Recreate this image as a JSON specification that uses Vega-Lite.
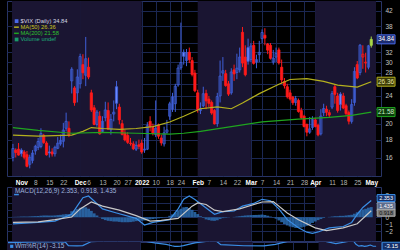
{
"$schema":"https://vega.github.io/schema/vega-lite/v6.json",
"background":"#000000",
"padding":{"left":6,"top":0,"right":0,"bottom":0},
"bounds":"flush",
"spacing":11,
"resolve":{"scale":{"color":"independent","stroke":"independent","fill":"independent"},"legend":{"color":"independent"}},
"config":{"font":"Liberation Sans","view":{"stroke":"#283466"},"axis":{"labelColor":"#c4c4c4","labelFont":"Liberation Sans","labelFontSize":6.5,"gridColor":"#1b2752","gridWidth":1,"domain":false,"ticks":false,"title":null,"labelOverlap":false,"labelBound":false,"labelFlush":false,"tickCount":200}},
"datasets":{
"one":[{}],
"months":[{"s":-3.34,"e":21},{"s":21,"e":43},{"s":63,"e":82},{"s":105,"e":126.7}],
"candles":[
{"i":-3,"o":16.0,"h":17.5,"l":15.6,"c":16.98,"d":"u"},{"i":-2,"o":16.8,"h":17.0,"l":16.0,"c":16.53,"d":"d"},{"i":-1,"o":16.9,"h":17.6,"l":16.2,"c":16.26,"d":"d"},
{"i":0,"o":16.8,"h":17.0,"l":16.1,"c":16.41,"d":"u"},{"i":1,"o":16.6,"h":16.8,"l":15.8,"c":16.03,"d":"d"},{"i":2,"o":16.3,"h":16.7,"l":15.0,"c":15.10,"d":"d"},{"i":3,"o":15.3,"h":16.3,"l":14.9,"c":16.03,"d":"u"},{"i":4,"o":15.7,"h":16.8,"l":15.4,"c":16.48,"d":"u"},
{"i":5,"o":16.7,"h":17.4,"l":16.3,"c":17.22,"d":"u"},{"i":6,"o":17.1,"h":18.2,"l":16.8,"c":17.78,"d":"u"},{"i":7,"o":17.2,"h":19.4,"l":17.0,"c":18.73,"d":"u"},{"i":8,"o":18.5,"h":18.7,"l":17.5,"c":17.66,"d":"d"},{"i":9,"o":17.6,"h":17.8,"l":16.2,"c":16.29,"d":"d"},
{"i":10,"o":16.6,"h":17.3,"l":16.0,"c":16.49,"d":"u"},{"i":11,"o":16.6,"h":17.0,"l":16.1,"c":16.37,"d":"d"},{"i":12,"o":16.4,"h":17.3,"l":16.1,"c":17.11,"d":"u"},{"i":13,"o":17.0,"h":18.3,"l":16.9,"c":17.59,"d":"u"},{"i":14,"o":17.5,"h":18.6,"l":17.3,"c":17.91,"d":"u"},
{"i":15,"o":17.8,"h":20.1,"l":17.1,"c":19.17,"d":"u"},{"i":16,"o":19.4,"h":21.5,"l":19.0,"c":20.3,"d":"u"},{"i":17,"o":19.4,"h":20.3,"l":18.3,"c":18.58,"d":"d"},{"i":18,"o":26.5,"h":29.0,"l":24.4,"c":28.62,"d":"u"},{"i":19,"o":25.3,"h":25.6,"l":22.5,"c":22.96,"d":"d"},
{"i":20,"o":24.5,"h":28.6,"l":23.0,"c":27.19,"d":"u"},{"i":21,"o":26.0,"h":31.7,"l":25.2,"c":31.12,"d":"u"},{"i":22,"o":29.5,"h":31.6,"l":26.8,"c":27.95,"d":"d"},{"i":23,"o":27.5,"h":35.4,"l":25.6,"c":30.67,"d":"u"},{"i":24,"o":29.0,"h":30.9,"l":26.8,"c":27.18,"d":"d"},
{"i":25,"o":24.5,"h":25.0,"l":21.6,"c":21.89,"d":"d"},{"i":26,"o":22.2,"h":22.6,"l":19.8,"c":19.90,"d":"d"},{"i":27,"o":19.9,"h":21.9,"l":19.6,"c":21.58,"d":"u"},{"i":28,"o":21.0,"h":21.7,"l":18.6,"c":18.69,"d":"d"},{"i":29,"o":19.0,"h":21.0,"l":18.8,"c":20.31,"d":"u"},
{"i":30,"o":20.8,"h":23.1,"l":20.3,"c":21.89,"d":"u"},{"i":31,"o":21.8,"h":23.0,"l":19.2,"c":19.29,"d":"d"},{"i":32,"o":19.2,"h":21.3,"l":18.6,"c":20.57,"d":"u"},{"i":33,"o":21.3,"h":23.3,"l":20.3,"c":21.57,"d":"u"},{"i":34,"o":25.5,"h":26.5,"l":22.0,"c":22.87,"d":"u"},
{"i":35,"o":22.3,"h":22.8,"l":19.9,"c":20.5,"d":"d"},{"i":36,"o":20.0,"h":20.5,"l":18.5,"c":18.63,"d":"d"},{"i":37,"o":18.8,"h":19.2,"l":17.8,"c":17.96,"d":"d"},{"i":38,"o":18.5,"h":18.9,"l":17.5,"c":17.68,"d":"d"},{"i":39,"o":17.6,"h":18.2,"l":17.3,"c":17.54,"d":"d"},
{"i":40,"o":17.5,"h":17.8,"l":16.8,"c":16.95,"d":"d"},{"i":41,"o":16.9,"h":17.8,"l":16.7,"c":17.33,"d":"u"},{"i":42,"o":17.4,"h":18.0,"l":16.9,"c":17.22,"d":"d"},{"i":43,"o":17.6,"h":18.0,"l":16.4,"c":16.60,"d":"d"},{"i":44,"o":16.8,"h":18.2,"l":16.5,"c":16.91,"d":"u"},
{"i":45,"o":16.9,"h":20.2,"l":16.8,"c":19.73,"d":"u"},{"i":46,"o":20.3,"h":21.0,"l":19.0,"c":19.61,"d":"d"},{"i":47,"o":19.5,"h":20.0,"l":18.5,"c":18.76,"d":"d"},{"i":48,"o":18.6,"h":23.3,"l":18.3,"c":19.40,"d":"u"},{"i":49,"o":19.8,"h":20.0,"l":18.1,"c":18.41,"d":"d"},
{"i":50,"o":18.2,"h":18.6,"l":17.3,"c":17.62,"d":"d"},{"i":51,"o":17.5,"h":19.6,"l":17.2,"c":18.83,"d":"u"},{"i":52,"o":18.9,"h":20.5,"l":18.7,"c":19.19,"d":"u"},{"i":53,"o":21.0,"h":23.1,"l":20.5,"c":22.79,"d":"u"},{"i":54,"o":22.0,"h":24.5,"l":21.6,"c":23.85,"d":"u"},
{"i":55,"o":22.8,"h":26.0,"l":21.6,"c":25.59,"d":"u"},{"i":56,"o":25.8,"h":29.5,"l":25.5,"c":28.85,"d":"u"},{"i":57,"o":28.9,"h":38.9,"l":28.5,"c":29.90,"d":"u"},{"i":58,"o":32.0,"h":32.6,"l":29.5,"c":31.16,"d":"u"},{"i":59,"o":30.3,"h":32.7,"l":29.2,"c":31.96,"d":"u"},
{"i":60,"o":32.0,"h":33.0,"l":29.8,"c":30.49,"d":"d"},{"i":61,"o":30.3,"h":31.0,"l":27.3,"c":27.66,"d":"d"},{"i":62,"o":27.9,"h":28.5,"l":24.6,"c":24.83,"d":"d"},{"i":63,"o":24.5,"h":25.0,"l":21.5,"c":21.96,"d":"d"},{"i":64,"o":21.8,"h":23.0,"l":21.3,"c":22.09,"d":"u"},
{"i":65,"o":22.5,"h":25.5,"l":22.3,"c":24.35,"d":"u"},{"i":66,"o":24.4,"h":25.0,"l":22.0,"c":23.22,"d":"d"},{"i":67,"o":23.5,"h":24.0,"l":22.3,"c":22.86,"d":"d"},{"i":68,"o":23.0,"h":23.3,"l":21.2,"c":21.44,"d":"d"},{"i":69,"o":21.8,"h":22.0,"l":19.9,"c":19.96,"d":"d"},
{"i":70,"o":20.0,"h":24.5,"l":19.6,"c":23.91,"d":"u"},{"i":71,"o":24.0,"h":30.3,"l":23.0,"c":27.36,"d":"u"},{"i":72,"o":27.9,"h":31.0,"l":26.5,"c":28.33,"d":"u"},{"i":73,"o":27.8,"h":28.5,"l":25.5,"c":25.70,"d":"d"},{"i":74,"o":26.0,"h":26.5,"l":24.0,"c":24.29,"d":"d"},
{"i":75,"o":24.5,"h":28.8,"l":24.2,"c":28.11,"d":"u"},{"i":76,"o":28.5,"h":29.5,"l":26.5,"c":27.75,"d":"d"},{"i":77,"o":28.0,"h":31.7,"l":26.8,"c":28.81,"d":"u"},{"i":78,"o":28.5,"h":33.0,"l":28.0,"c":31.02,"d":"u"},{"i":79,"o":36.5,"h":37.8,"l":29.0,"c":29.8,"d":"d"},
{"i":80,"o":31.0,"h":33.5,"l":27.3,"c":27.59,"d":"d"},{"i":81,"o":33.0,"h":35.0,"l":29.5,"c":30.15,"d":"u"},{"i":82,"o":30.5,"h":34.0,"l":30.0,"c":33.32,"d":"u"},{"i":83,"o":33.5,"h":34.5,"l":29.5,"c":29.74,"d":"d"},{"i":84,"o":30.0,"h":31.5,"l":28.8,"c":30.48,"d":"u"},
{"i":85,"o":31.5,"h":34.5,"l":30.0,"c":31.98,"d":"u"},{"i":86,"o":35.0,"h":37.2,"l":34.0,"c":36.45,"d":"u"},{"i":87,"o":35.8,"h":37.5,"l":33.5,"c":35.13,"d":"d"},{"i":88,"o":33.8,"h":34.0,"l":31.6,"c":32.45,"d":"d"},{"i":89,"o":33.5,"h":34.0,"l":30.5,"c":30.75,"d":"d"},
{"i":90,"o":30.0,"h":32.5,"l":29.5,"c":30.8,"d":"u"},{"i":91,"o":31.0,"h":33.0,"l":30.0,"c":31.77,"d":"u"},{"i":92,"o":32.5,"h":33.0,"l":29.5,"c":29.83,"d":"d"},{"i":93,"o":29.0,"h":30.5,"l":26.0,"c":26.67,"d":"d"},{"i":94,"o":26.4,"h":27.0,"l":25.2,"c":25.67,"d":"d"},
{"i":95,"o":25.5,"h":26.0,"l":23.6,"c":23.87,"d":"d"},{"i":96,"o":24.5,"h":25.0,"l":23.3,"c":23.53,"d":"d"},{"i":97,"o":23.8,"h":24.0,"l":22.6,"c":22.94,"d":"d"},{"i":98,"o":23.0,"h":24.0,"l":22.5,"c":23.57,"d":"u"},{"i":99,"o":23.3,"h":23.6,"l":21.5,"c":21.67,"d":"d"},
{"i":100,"o":21.8,"h":22.2,"l":20.6,"c":20.81,"d":"d"},{"i":101,"o":21.0,"h":21.2,"l":19.5,"c":19.63,"d":"d"},{"i":102,"o":19.9,"h":20.0,"l":18.4,"c":18.90,"d":"d"},{"i":103,"o":18.9,"h":20.9,"l":18.7,"c":19.33,"d":"u"},{"i":104,"o":19.5,"h":21.0,"l":19.2,"c":20.56,"d":"u"},
{"i":105,"o":20.5,"h":20.8,"l":19.5,"c":19.63,"d":"d"},{"i":106,"o":19.8,"h":20.0,"l":18.4,"c":18.57,"d":"d"},{"i":107,"o":18.7,"h":22.0,"l":18.5,"c":21.03,"d":"u"},{"i":108,"o":21.5,"h":22.8,"l":21.0,"c":22.10,"d":"u"},{"i":109,"o":22.0,"h":22.5,"l":21.0,"c":21.55,"d":"d"},
{"i":110,"o":21.5,"h":21.9,"l":20.8,"c":21.16,"d":"d"},{"i":111,"o":22.3,"h":24.8,"l":22.0,"c":24.37,"d":"u"},{"i":112,"o":25.5,"h":25.8,"l":22.8,"c":24.26,"d":"d"},{"i":113,"o":24.0,"h":24.5,"l":21.5,"c":21.82,"d":"d"},{"i":114,"o":24.3,"h":24.6,"l":21.8,"c":22.70,"d":"u"},
{"i":115,"o":24.0,"h":24.5,"l":22.0,"c":22.17,"d":"d"},{"i":116,"o":22.5,"h":22.8,"l":21.1,"c":21.37,"d":"d"},{"i":117,"o":21.5,"h":21.8,"l":19.9,"c":20.32,"d":"d"},{"i":118,"o":20.3,"h":23.5,"l":20.0,"c":22.68,"d":"u"},{"i":119,"o":23.0,"h":29.0,"l":22.5,"c":28.21,"d":"u"},
{"i":120,"o":29.5,"h":30.2,"l":26.8,"c":27.02,"d":"d"},{"i":121,"o":28.0,"h":33.8,"l":27.5,"c":33.52,"d":"u"},{"i":122,"o":31.0,"h":33.5,"l":28.7,"c":31.60,"d":"d"},{"i":123,"o":29.8,"h":31.9,"l":28.0,"c":29.99,"d":"d"},{"i":124,"o":29.0,"h":33.6,"l":28.6,"c":33.40,"d":"u"},
{"i":125,"o":33.5,"h":35.5,"l":33.0,"c":34.84,"d":"L"}],
"ma":[
{"i":-3,"v":18.54,"k":"a"},{"i":6,"v":18.42,"k":"a"},{"i":18,"v":18.54,"k":"a"},{"i":22,"v":19.0,"k":"a"},{"i":25,"v":19.49,"k":"a"},{"i":29,"v":19.37,"k":"a"},{"i":35,"v":19.25,"k":"a"},{"i":41,"v":19.37,"k":"a"},{"i":47,"v":19.61,"k":"a"},{"i":53,"v":20.22,"k":"a"},{"i":58,"v":21.0,"k":"a"},{"i":64,"v":22.06,"k":"a"},{"i":70,"v":22.34,"k":"a"},{"i":75,"v":22.06,"k":"a"},{"i":79,"v":22.9,"k":"a"},{"i":85,"v":24.37,"k":"a"},{"i":92,"v":25.93,"k":"a"},{"i":96,"v":26.75,"k":"a"},{"i":102,"v":26.91,"k":"a"},{"i":108,"v":26.41,"k":"a"},{"i":113,"v":25.77,"k":"a"},{"i":120,"v":25.45,"k":"a"},{"i":125,"v":26.36,"k":"a"},
{"i":-3,"v":19.49,"k":"b"},{"i":6,"v":19.13,"k":"b"},{"i":18,"v":18.77,"k":"b"},{"i":29,"v":18.89,"k":"b"},{"i":41,"v":18.77,"k":"b"},{"i":53,"v":18.66,"k":"b"},{"i":58,"v":18.77,"k":"b"},{"i":64,"v":19.0,"k":"b"},{"i":75,"v":19.61,"k":"b"},{"i":86,"v":20.22,"k":"b"},{"i":99,"v":20.6,"k":"b"},{"i":110,"v":20.85,"k":"b"},{"i":118,"v":21.11,"k":"b"},{"i":125,"v":21.58,"k":"b"}],
"hist":[
{"i":-3,"h":0.05},{"i":-2,"h":0.06},{"i":-1,"h":0.08},{"i":0,"h":0.1},{"i":1,"h":0.1},{"i":2,"h":0.1},{"i":3,"h":0.12},{"i":4,"h":0.14},{"i":5,"h":0.16},{"i":6,"h":0.18},{"i":7,"h":0.22},{"i":8,"h":0.25},{"i":9,"h":0.25},{"i":10,"h":0.24},{"i":11,"h":0.24},{"i":12,"h":0.26},{"i":13,"h":0.3},{"i":14,"h":0.34},{"i":15,"h":0.4},{"i":16,"h":0.45},{"i":17,"h":0.45},
{"i":18,"h":0.85},{"i":19,"h":0.95},{"i":20,"h":1.15},{"i":21,"h":1.35},{"i":22,"h":1.45},{"i":23,"h":1.4},{"i":24,"h":1.2},{"i":25,"h":0.9},{"i":26,"h":0.55},
{"i":27,"h":0.25},{"i":28,"h":-0.05},{"i":29,"h":-0.25},{"i":30,"h":-0.4},{"i":31,"h":-0.5},{"i":32,"h":-0.55},{"i":33,"h":-0.6},{"i":34,"h":-0.6},{"i":35,"h":-0.65},{"i":36,"h":-0.7},{"i":37,"h":-0.7},{"i":38,"h":-0.7},{"i":39,"h":-0.68},{"i":40,"h":-0.62},
{"i":41,"h":-0.55},{"i":42,"h":-0.5},{"i":43,"h":-0.48},{"i":44,"h":-0.45},{"i":45,"h":-0.38},{"i":46,"h":-0.3},{"i":47,"h":-0.25},{"i":48,"h":-0.2},{"i":49,"h":-0.15},{"i":50,"h":-0.1},{"i":51,"h":-0.05},{"i":52,"h":0.05},
{"i":53,"h":0.2},{"i":54,"h":0.4},{"i":55,"h":0.65},{"i":56,"h":0.95},{"i":57,"h":1.2},{"i":58,"h":1.4},{"i":59,"h":1.45},{"i":60,"h":1.3},{"i":61,"h":1.05},{"i":62,"h":0.75},{"i":63,"h":0.45},
{"i":64,"h":0.15},{"i":65,"h":-0.1},{"i":66,"h":-0.3},{"i":67,"h":-0.4},{"i":68,"h":-0.48},{"i":69,"h":-0.5},{"i":70,"h":-0.42},{"i":71,"h":-0.25},{"i":72,"h":-0.12},{"i":73,"h":-0.08},{"i":74,"h":-0.04},{"i":75,"h":0.0},
{"i":76,"h":0.05},{"i":77,"h":0.1},{"i":78,"h":0.15},{"i":79,"h":0.2},{"i":80,"h":0.25},{"i":81,"h":0.28},{"i":82,"h":0.3},{"i":83,"h":0.32},{"i":84,"h":0.33},{"i":85,"h":0.35},{"i":86,"h":0.38},{"i":87,"h":0.32},{"i":88,"h":0.22},{"i":89,"h":0.1},{"i":90,"h":-0.05},
{"i":91,"h":-0.2},{"i":92,"h":-0.45},{"i":93,"h":-0.7},{"i":94,"h":-0.95},{"i":95,"h":-1.15},{"i":96,"h":-1.3},{"i":97,"h":-1.4},{"i":98,"h":-1.5},{"i":99,"h":-1.5},{"i":100,"h":-1.45},{"i":101,"h":-1.35},{"i":102,"h":-1.2},{"i":103,"h":-1.0},{"i":104,"h":-0.8},
{"i":105,"h":-0.6},{"i":106,"h":-0.4},{"i":107,"h":-0.25},{"i":108,"h":-0.1},{"i":109,"h":0.0},{"i":110,"h":0.05},{"i":111,"h":0.1},{"i":112,"h":0.15},{"i":113,"h":0.15},{"i":114,"h":0.2},{"i":115,"h":0.2},
{"i":116,"h":0.25},{"i":117,"h":0.3},{"i":118,"h":0.35},{"i":119,"h":0.5},{"i":120,"h":0.7},{"i":121,"h":0.9},{"i":122,"h":1.1},{"i":123,"h":1.2},{"i":124,"h":1.35},{"i":125,"h":1.435}],
"ml":[
{"i":-3,"v":-0.92,"k":"m"},{"i":6,"v":-0.73,"k":"m"},{"i":12,"v":-0.54,"k":"m"},{"i":18,"v":0.42,"k":"m"},{"i":20,"v":1.6,"k":"m"},{"i":22,"v":2.75,"k":"m"},{"i":24,"v":3.0,"k":"m"},{"i":26,"v":2.3,"k":"m"},{"i":29,"v":1.18,"k":"m"},{"i":34,"v":0.6,"k":"m"},{"i":41,"v":-0.15,"k":"m"},{"i":44,"v":-1.1,"k":"m"},{"i":47,"v":-0.73,"k":"m"},{"i":53,"v":-0.34,"k":"m"},{"i":56,"v":1.18,"k":"m"},{"i":58,"v":2.53,"k":"m"},{"i":60,"v":3.0,"k":"m"},{"i":62,"v":2.5,"k":"m"},{"i":64,"v":1.9,"k":"m"},{"i":69,"v":0.42,"k":"m"},{"i":72,"v":0.8,"k":"m"},{"i":76,"v":0.88,"k":"m"},{"i":79,"v":1.57,"k":"m"},{"i":83,"v":1.95,"k":"m"},{"i":86,"v":2.53,"k":"m"},{"i":89,"v":2.33,"k":"m"},{"i":92,"v":1.18,"k":"m"},{"i":95,"v":-0.34,"k":"m"},{"i":99,"v":-1.49,"k":"m"},{"i":102,"v":-2.1,"k":"m"},{"i":104,"v":-2.26,"k":"m"},{"i":106,"v":-2.07,"k":"m"},{"i":110,"v":-1.49,"k":"m"},{"i":115,"v":-1.3,"k":"m"},{"i":118,"v":-0.73,"k":"m"},{"i":120,"v":0.42,"k":"m"},{"i":122,"v":1.38,"k":"m"},{"i":125,"v":2.353,"k":"m"},
{"i":-3,"v":-0.73,"k":"s"},{"i":6,"v":-0.65,"k":"s"},{"i":12,"v":-0.34,"k":"s"},{"i":18,"v":0.04,"k":"s"},{"i":21,"v":1.18,"k":"s"},{"i":25,"v":2.15,"k":"s"},{"i":29,"v":1.57,"k":"s"},{"i":35,"v":1.0,"k":"s"},{"i":41,"v":0.23,"k":"s"},{"i":46,"v":-0.54,"k":"s"},{"i":50,"v":-0.43,"k":"s"},{"i":56,"v":-0.15,"k":"s"},{"i":61,"v":1.57,"k":"s"},{"i":63,"v":2.03,"k":"s"},{"i":66,"v":1.8,"k":"s"},{"i":69,"v":1.0,"k":"s"},{"i":72,"v":0.8,"k":"s"},{"i":78,"v":1.18,"k":"s"},{"i":86,"v":2.15,"k":"s"},{"i":90,"v":2.2,"k":"s"},{"i":95,"v":0.6,"k":"s"},{"i":99,"v":-0.34,"k":"s"},{"i":105,"v":-1.49,"k":"s"},{"i":109,"v":-1.87,"k":"s"},{"i":115,"v":-1.49,"k":"s"},{"i":120,"v":-0.92,"k":"s"},{"i":125,"v":0.918,"k":"s"}],
"wr":[{"i":-3,"v":-55},{"i":10,"v":-70},{"i":17,"v":-60},{"i":18,"v":-10},{"i":21,"v":-8},{"i":23,"v":-12},{"i":26,"v":-70},{"i":40,"v":-85},{"i":44,"v":-80},{"i":48,"v":-50},{"i":52,"v":-30},{"i":54,"v":-10},{"i":55,"v":-2},{"i":56,"v":-0.5},{"i":57,"v":-4},{"i":58,"v":-12},{"i":62,"v":-50},{"i":69,"v":-90},{"i":71,"v":-25},{"i":79,"v":-10},{"i":86,"v":-8},{"i":90,"v":-30},{"i":95,"v":-80},{"i":102,"v":-95},{"i":106,"v":-85},{"i":111,"v":-40},{"i":117,"v":-85},{"i":118,"v":-30},{"i":119,"v":-4},{"i":120,"v":-12},{"i":121,"v":-1},{"i":122,"v":-8},{"i":123,"v":-20},{"i":124,"v":-3},{"i":125,"v":-3.15}]
},
"vconcat":[
{"width":374,"height":175,
"layer":[
{"data":{"name":"months"},"mark":{"type":"rect","fill":"#1a1532"},
 "encoding":{"x":{"field":"s","type":"quantitative","scale":{"domain":[-3.34,126.7],"nice":false,"zero":false},
  "axis":{"orient":"bottom","values":[0,5,10,15,21,24,29,34,38,43,48,53,57,63,67,72,77,82,86,91,96,101,105,111,115,120,125],"tickCount":200,
   "labelExpr":"['Nov','8','15','22','Dec','6','13','20','27','2022','10','18','24','Feb','7','14','22','Mar','7','14','21','28','Apr','11','18','25','May'][indexof([0,5,10,15,21,24,29,34,38,43,48,53,57,63,67,72,77,82,86,91,96,101,105,111,115,120,125],datum.value)]",
   "labelFontWeight":{"condition":{"test":"indexof([0,21,43,63,82,105,125],datum.value)>=0","value":"bold"},"value":"normal"},
   "labelColor":{"condition":{"test":"indexof([0,21,43,63,82,105,125],datum.value)>=0","value":"#ffffff"},"value":"#b4b4b4"},
   "labelOverlap":false,"labelBound":false,"labelFlush":false,"labelPadding":3,"labelFontSize":6.5,"grid":true}},
  "x2":{"field":"e"}}},
{"data":{"name":"candles"},"mark":{"type":"rule","strokeWidth":1},
 "encoding":{"x":{"field":"i","type":"quantitative"},
  "y":{"field":"l","type":"quantitative","scale":{"type":"log","domain":[14.64,43.4],"nice":false},
   "axis":{"orient":"right","values":[16,18,20,22,24,26,28,30,32,34,38,42],"tickCount":200,"format":"d","labelExpr":"indexof([22,26,34],datum.value)>=0 ? '' : datum.label","grid":true,"labelPadding":4}},
  "y2":{"field":"h"},
  "stroke":{"field":"d","type":"nominal","scale":{"domain":["u","d","L"],"range":["#3f5fd8","#ff1a1a","#a8d848"]},"legend":null}}},
{"data":{"name":"candles"},"mark":{"type":"bar","size":2.2,"strokeWidth":0.8},
 "encoding":{"x":{"field":"i","type":"quantitative"},"y":{"field":"o","type":"quantitative"},"y2":{"field":"c"},
  "stroke":{"field":"d","type":"nominal","legend":null},
  "fill":{"condition":[{"test":"datum.d=='L'","value":"#a8d848"},{"test":"datum.c>datum.o","value":"transparent"}],"field":"d","type":"nominal","scale":{"domain":["u","d","L"],"range":["#6a88ff","#ff1a1a","#a8d848"]},"legend":null}}},
{"data":{"name":"ma"},"mark":{"type":"line","strokeWidth":1.2},
 "encoding":{"x":{"field":"i","type":"quantitative"},"y":{"field":"v","type":"quantitative"},
  "color":{"field":"k","type":"nominal","scale":{"domain":["a","b"],"range":["#b4b01e","#1fa51f"]},"legend":null}}},
{"data":{"name":"one"},"mark":{"type":"point","shape":"square","filled":true,"size":14,"color":"#4a6ae8","opacity":1},"encoding":{"x":{"datum":-1.7},"y":{"datum":39.29}}},
{"data":{"name":"one"},"mark":{"type":"rule","strokeWidth":1.5,"color":"#b4b01e"},"encoding":{"x":{"datum":-2.6},"x2":{"datum":-0.9},"y":{"datum":37.75}}},
{"data":{"name":"one"},"mark":{"type":"rule","strokeWidth":1.5,"color":"#1fa51f"},"encoding":{"x":{"datum":-2.6},"x2":{"datum":-0.9},"y":{"datum":36.25}}},
{"data":{"name":"one"},"mark":{"type":"point","shape":"square","filled":true,"size":14,"color":"#1a9a6a","opacity":1},"encoding":{"x":{"datum":-1.7},"y":{"datum":34.81}}},
{"data":{"name":"one"},"mark":{"type":"text","align":"left","baseline":"middle","fontSize":5.8,"color":"#d4d4e4"},"encoding":{"x":{"datum":-0.3},"y":{"datum":39.29},"text":{"value":"$VIX (Daily) 34.84"}}},
{"data":{"name":"one"},"mark":{"type":"text","align":"left","baseline":"middle","fontSize":5.8,"color":"#c8c420"},"encoding":{"x":{"datum":-0.3},"y":{"datum":37.75},"text":{"value":"MA(50) 26.36"}}},
{"data":{"name":"one"},"mark":{"type":"text","align":"left","baseline":"middle","fontSize":5.8,"color":"#2fc02f"},"encoding":{"x":{"datum":-0.3},"y":{"datum":36.25},"text":{"value":"MA(200) 21.58"}}},
{"data":{"name":"one"},"mark":{"type":"text","align":"left","baseline":"middle","fontSize":5.8,"color":"#1fb07a"},"encoding":{"x":{"datum":-0.3},"y":{"datum":34.81},"text":{"value":"Volume undef"}}},
{"data":{"name":"one"},"mark":{"type":"bar","orient":"horizontal","size":9,"fill":"#1c2c70","stroke":"#4a6ae8","strokeWidth":1},"encoding":{"x":{"datum":127.1},"x2":{"datum":133.5},"y":{"datum":34.84}}},
{"data":{"name":"one"},"mark":{"type":"text","fontSize":6.5,"color":"#ffffff"},"encoding":{"x":{"datum":130.3},"y":{"datum":34.84},"text":{"value":"34.84"}}},
{"data":{"name":"one"},"mark":{"type":"bar","orient":"horizontal","size":9,"fill":"#3c3c08","stroke":"#b4b01e","strokeWidth":1},"encoding":{"x":{"datum":127.1},"x2":{"datum":133.5},"y":{"datum":26.36}}},
{"data":{"name":"one"},"mark":{"type":"text","fontSize":6.5,"color":"#e8e8a0"},"encoding":{"x":{"datum":130.3},"y":{"datum":26.36},"text":{"value":"26.36"}}},
{"data":{"name":"one"},"mark":{"type":"bar","orient":"horizontal","size":9,"fill":"#0c3c0c","stroke":"#1fa51f","strokeWidth":1},"encoding":{"x":{"datum":127.1},"x2":{"datum":133.5},"y":{"datum":21.58}}},
{"data":{"name":"one"},"mark":{"type":"text","fontSize":6.5,"color":"#c8f0c8"},"encoding":{"x":{"datum":130.3},"y":{"datum":21.58},"text":{"value":"21.58"}}}
]},
{"vconcat":[
{"width":374,"height":54,
 "title":{"text":"MACD(12,26,9) 2.353, 0.918, 1.435","anchor":"start","orient":"top","offset":-7,"dx":8,"fontSize":6.4,"fontWeight":"normal","color":"#9fb4dc","font":"Liberation Sans"},
 "layer":[
{"data":{"name":"months"},"mark":{"type":"rect","fill":"#1a1532"},
 "encoding":{"x":{"field":"s","type":"quantitative","scale":{"domain":[-3.34,126.7],"nice":false,"zero":false},
  "axis":{"orient":"bottom","values":[0,5,10,15,21,24,29,34,38,43,48,53,57,63,67,72,77,82,86,91,96,101,105,111,115,120,125],"tickCount":200,"labels":false,"grid":true}},
  "x2":{"field":"e"}}},
{"data":{"name":"hist"},"mark":{"type":"bar","size":2.9,"fill":"#2a68aa","opacity":0.9},
 "encoding":{"x":{"field":"i","type":"quantitative"},
  "y":{"field":"h","type":"quantitative","scale":{"domain":[-2.64,3.56],"nice":false,"zero":false},"axis":{"orient":"right","values":[-2,-1,0,1,2,3],"tickCount":200,"format":"d","labelExpr":"datum.value==1||datum.value==2 ? '' : datum.label","grid":true,"labelPadding":4}},
  "y2":{"datum":0}}},
{"data":{"name":"ml"},"mark":{"type":"line","strokeWidth":1.2},
 "encoding":{"x":{"field":"i","type":"quantitative"},"y":{"field":"v","type":"quantitative"},
  "color":{"field":"k","type":"nominal","scale":{"domain":["m","s"],"range":["#3a8ee6","#c8c8c8"]},"legend":null}}},
{"data":{"name":"one"},"mark":{"type":"rule","strokeWidth":1.5,"color":"#3a8ee6"},"encoding":{"x":{"datum":-2.6},"x2":{"datum":-0.9},"y":{"datum":3.2}}},
{"data":{"name":"one"},"mark":{"type":"bar","orient":"horizontal","size":7,"fill":"#14306a","stroke":"#3a8ee6","strokeWidth":1,"yOffset":-2.5},"encoding":{"x":{"datum":127.1},"x2":{"datum":133.5},"y":{"datum":2.353}}},
{"data":{"name":"one"},"mark":{"type":"text","fontSize":5.5,"color":"#ffffff","yOffset":-2.5},"encoding":{"x":{"datum":130.3},"y":{"datum":2.353},"text":{"value":"2.353"}}},
{"data":{"name":"one"},"mark":{"type":"bar","orient":"horizontal","size":7,"fill":"#5a6a8a","stroke":"#8a9ab8","strokeWidth":1,"yOffset":-1},"encoding":{"x":{"datum":127.1},"x2":{"datum":133.5},"y":{"datum":1.435}}},
{"data":{"name":"one"},"mark":{"type":"text","fontSize":5.5,"color":"#ffffff","yOffset":-1},"encoding":{"x":{"datum":130.3},"y":{"datum":1.435},"text":{"value":"1.435"}}},
{"data":{"name":"one"},"mark":{"type":"bar","orient":"horizontal","size":7,"fill":"#7a7a7a","stroke":"#b0b0b0","strokeWidth":1,"yOffset":2},"encoding":{"x":{"datum":127.1},"x2":{"datum":133.5},"y":{"datum":0.918}}},
{"data":{"name":"one"},"mark":{"type":"text","fontSize":5.5,"color":"#101010","yOffset":2},"encoding":{"x":{"datum":130.3},"y":{"datum":0.918},"text":{"value":"0.918"}}}
]},
{"width":374,"height":9,
 "title":{"text":"Wm%R(14) -3.15","anchor":"start","orient":"top","offset":-8,"dx":8,"fontSize":6.4,"fontWeight":"normal","color":"#9fb4dc","font":"Liberation Sans"},
 "layer":[
{"data":{"name":"months"},"mark":{"type":"rect","fill":"#1a1532"},
 "encoding":{"x":{"field":"s","type":"quantitative","scale":{"domain":[-3.34,126.7],"nice":false,"zero":false},
  "axis":{"orient":"bottom","values":[0,5,10,15,21,24,29,34,38,43,48,53,57,63,67,72,77,82,86,91,96,101,105,111,115,120,125],"tickCount":200,"labels":false,"grid":true}},
  "x2":{"field":"e"}}},
{"data":{"name":"wr"},"mark":{"type":"line","strokeWidth":1.2,"color":"#3a8ee6","clip":true},
 "encoding":{"x":{"field":"i","type":"quantitative"},"y":{"field":"v","type":"quantitative","scale":{"domain":[-6.4,7.9],"nice":false,"zero":false},"axis":{"orient":"right","values":[0],"labels":false,"grid":false}}}},
{"data":{"name":"one"},"mark":{"type":"point","shape":"square","filled":true,"size":10,"color":"#3a8ee6","opacity":1},"encoding":{"x":{"datum":-1.7},"y":{"datum":-1.5}}},
{"data":{"name":"one"},"mark":{"type":"bar","orient":"horizontal","size":8,"fill":"#14306a","stroke":"#3a8ee6","strokeWidth":1},"encoding":{"x":{"datum":127.1},"x2":{"datum":133.5},"y":{"datum":-3.15}}},
{"data":{"name":"one"},"mark":{"type":"text","fontSize":6,"color":"#ffffff"},"encoding":{"x":{"datum":130.3},"y":{"datum":-3.15},"text":{"value":"-3.15"}}}
]}
],"spacing":1,"bounds":"flush","resolve":{"scale":{"color":"independent","stroke":"independent","fill":"independent"}}}
]
}
